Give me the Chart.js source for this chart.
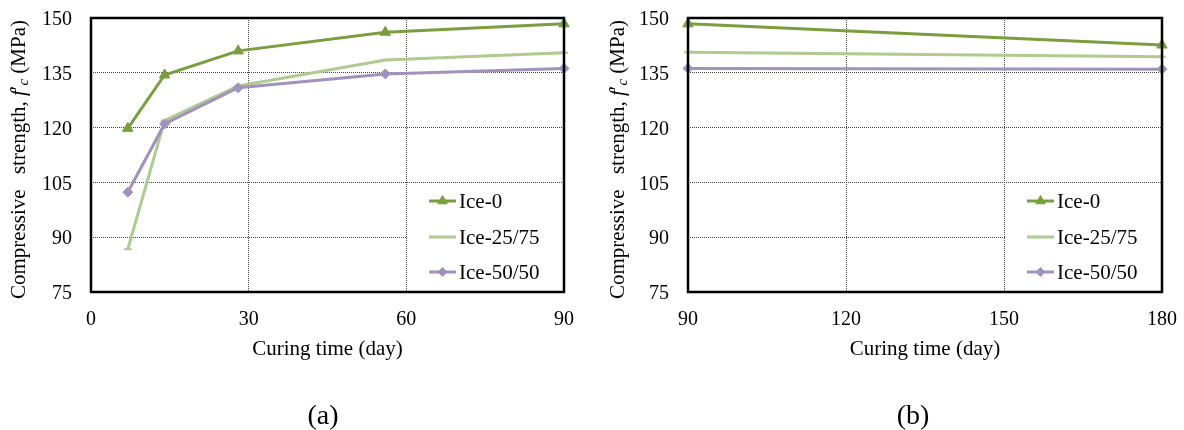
<!DOCTYPE html>
<html><head><meta charset="utf-8">
<script src="https://cdn.jsdelivr.net/npm/chart.js@4/dist/chart.umd.min.js"></script>
<style>
html,body{margin:0;padding:0;background:#fff;width:1184px;height:430px;overflow:hidden}
canvas{position:absolute;top:0}
#ca{left:0px}
#cb{left:592px}
</style></head><body>
<canvas id="ca" width="592" height="430"></canvas>
<canvas id="cb" width="592" height="430"></canvas>
<script>
// ---- data ----
const seriesNames = ['Ice-0', 'Ice-25/75', 'Ice-50/50'];
const daysA = [7, 14, 28, 56, 90];
const ice0A = [119.8, 134.4, 141.0, 146.1, 148.4];
const ice25A = [86.7, 121.9, 131.4, 138.5, 140.5];
const ice50A = [102.3, 121.0, 130.9, 134.7, 136.2];
const daysB = [90, 180];
const ice0B = [148.4, 142.6];
const ice25B = [140.6, 139.4];
const ice50B = [136.2, 136.0];
const yTicks = [75, 90, 105, 120, 135, 150];
const xTicksA = [0, 30, 60, 90];
const xTicksB = [90, 120, 150, 180];
const xTitle = 'Curing time (day)';
const panelLabels = ['(a)', '(b)'];

const FONT = "'Liberation Serif', 'Times New Roman', serif";
const colors = ['#7A9E3E', '#AFCB8F', '#A092BC'];
const styles = [
  {pointStyle: 'triangle', pointRadius: 6},
  {pointStyle: 'line', pointRadius: 4},
  {pointStyle: 'rectRot', pointRadius: 5}
];

function makeDatasets(days, arrs) {
  return arrs.map((arr, i) => ({
    label: seriesNames[i],
    data: days.map((d, j) => ({x: d, y: arr[j]})),
    borderColor: colors[i],
    backgroundColor: colors[i],
    borderWidth: 3,
    pointStyle: styles[i].pointStyle,
    pointRadius: styles[i].pointRadius,
    pointBorderWidth: i === 1 ? 2 : 1,
    pointBackgroundColor: colors[i],
    pointBorderColor: colors[i],
    tension: 0,
    clip: false,
    order: 3 - i
  }));
}

function makeChart(id, days, arrs, xTicks, p) {
  const deco = {
    id: 'deco',
    beforeDatasetsDraw(chart) {
      const ctx = chart.ctx, a = chart.chartArea, xs = chart.scales.x;
      ctx.save();
      ctx.fillStyle = '#fff';
      const bx = xs.getPixelForValue(xTicks[2]) + 1;
      ctx.fillRect(bx, p.legendTop, a.right - bx, a.bottom - p.legendTop);
      ctx.restore();
    },
    afterDraw(chart) {
      const ctx = chart.ctx, a = chart.chartArea;
      ctx.save();
      ctx.strokeStyle = '#000';
      ctx.lineWidth = 2.5;
      ctx.strokeRect(a.left, a.top, a.right - a.left, a.bottom - a.top);
      // legend
      ctx.textBaseline = 'middle';
      ctx.textAlign = 'left';
      ctx.font = '21px ' + FONT;
      chart.data.datasets.forEach((ds, i) => {
        const y = p.legendY[i];
        ctx.strokeStyle = ds.borderColor;
        ctx.lineWidth = 3;
        ctx.beginPath();
        ctx.moveTo(p.legX0, y);
        ctx.lineTo(p.legX1, y);
        ctx.stroke();
        if (i !== 1) {
          ctx.fillStyle = ds.backgroundColor;
          ctx.lineWidth = 1;
          Chart.helpers.drawPoint(ctx, {pointStyle: ds.pointStyle, radius: ds.pointRadius - 0.5, rotation: 0, borderWidth: 1}, (p.legX0 + p.legX1) / 2, y);
        }
        ctx.fillStyle = '#000';
        ctx.fillText(ds.label, p.legX1 + 3, y + 1);
      });
      // x title
      ctx.textAlign = 'center';
      ctx.fillStyle = '#000';
      ctx.font = '21px ' + FONT;
      ctx.fillText(xTitle, (a.left + a.right) / 2, 349);
      // panel label
      ctx.font = '28px ' + FONT;
      ctx.fillText(p.panel, p.panelX, 417);
      // y title
      ctx.translate(p.yTitleX, 159.5);
      ctx.rotate(-Math.PI / 2);
      const segs = [
        {t: 'Compressive', f: '21px ' + FONT, dy: 0},
        {t: ' ', f: '21px ' + FONT, dy: 0, gap: 10},
        {t: 'strength, ', f: '21px ' + FONT, dy: 0},
        {t: 'f', f: 'italic 21px ' + FONT, dy: 0},
        {t: '\u2032', f: '21px ' + FONT, dy: 0},
        {t: 'c', f: 'italic 15px ' + FONT, dy: 5},
        {t: ' (MPa)', f: '21px ' + FONT, dy: 0}
      ];
      let total = 0;
      segs.forEach(s => { ctx.font = s.f; s.w = ctx.measureText(s.t).width + (s.gap || 0); total += s.w; });
      let x = -total / 2;
      ctx.textAlign = 'left';
      ctx.textBaseline = 'middle';
      segs.forEach(s => { ctx.font = s.f; ctx.fillText(s.t, x, s.dy); x += s.w; });
      ctx.restore();
    }
  };
  return new Chart(document.getElementById(id), {
    type: 'line',
    data: {datasets: makeDatasets(days, arrs)},
    options: {
      responsive: false,
      animation: false,
      devicePixelRatio: 1,
      layout: {padding: {left: 0, right: 592 - p.plotRight, top: 18, bottom: 0}},
      plugins: {legend: {display: false}, tooltip: {enabled: false}},
      scales: {
        x: {
          type: 'linear',
          min: xTicks[0], max: xTicks[xTicks.length - 1],
          afterBuildTicks: s => { s.ticks = xTicks.map(v => ({value: v})); },
          afterFit: s => { s.height = 430 - 292; s.paddingLeft = 0; s.paddingRight = 0; },
          grid: {color: '#444', lineWidth: 1, drawTicks: false},
          border: {display: false, dash: [1, 1]},
          ticks: {color: '#000', font: {family: FONT, size: 20}, padding: 16, maxRotation: 0}
        },
        y: {
          type: 'linear',
          min: yTicks[0], max: yTicks[yTicks.length - 1],
          afterBuildTicks: s => { s.ticks = yTicks.map(v => ({value: v})); },
          afterFit: s => { s.width = p.plotLeft; s.paddingTop = 0; s.paddingBottom = 0; },
          grid: {color: '#444', lineWidth: 1, drawTicks: false},
          border: {display: false, dash: [1, 1]},
          ticks: {color: '#000', font: {family: FONT, size: 20}, padding: 19, labelOffset: 2}
        }
      }
    },
    plugins: [deco]
  });
}

makeChart('ca', daysA, [ice0A, ice25A, ice50A], xTicksA, {
  plotLeft: 91, plotRight: 564, legendTop: 185,
  legendY: [201, 237, 272], legX0: 429, legX1: 456,
  panel: panelLabels[0], panelX: 323, yTitleX: 19
});
makeChart('cb', daysB, [ice0B, ice25B, ice50B], xTicksB, {
  plotLeft: 96, plotRight: 570, legendTop: 185,
  legendY: [201, 237, 272], legX0: 435, legX1: 462,
  panel: panelLabels[1], panelX: 321, yTitleX: 26
});
</script>
</body></html>
